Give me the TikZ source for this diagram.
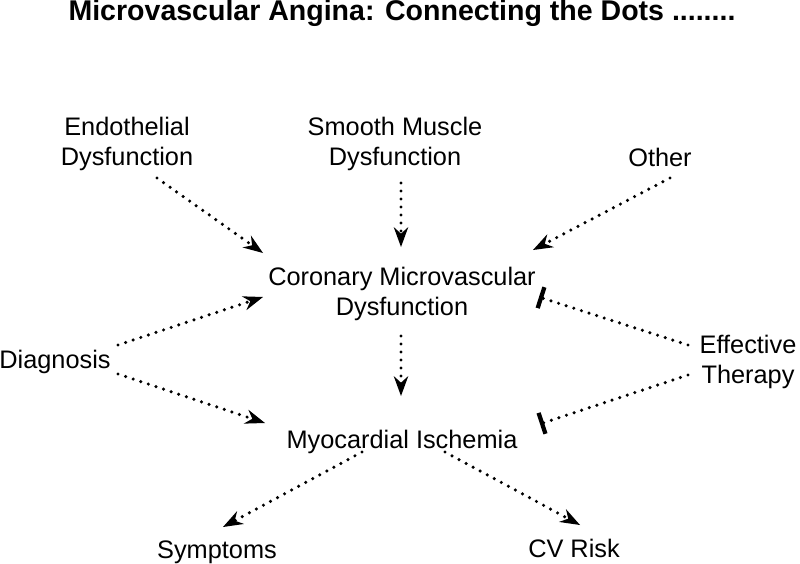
\documentclass[tikz,border=0pt]{standalone}
\usepackage{fontspec}
\setmainfont{Liberation Sans}
\usetikzlibrary{arrows.meta,calc}
\begin{document}
\begin{tikzpicture}[x=0.75pt,y=-0.75pt,
  lbl/.style={font=\fontsize{19}{22.5}\selectfont, align=center, inner sep=0pt},
  dotline/.style={line width=2.6pt, dash pattern=on 0pt off 6pt, line cap=round},
  arr/.style={dotline, -{Stealth[length=15pt,width=11pt,inset=5pt,line width=0pt]}},
  blk/.style={dotline, -{Bar[width=16.5pt,line width=3.2pt]}}]
\useasboundingbox (0,0) rectangle (800,564);
\node (title) [font=\fontsize{21.4}{25}\selectfont\bfseries, anchor=base, inner sep=0pt] at (402,21) {Microvascular Angina: Connecting the Dots ........};
\node (endo) [lbl] at (127,144) {Endothelial\\Dysfunction};
\node (smooth) [lbl] at (395,144) {Smooth Muscle\\Dysfunction};
\node (other) [lbl] at (660,157) {Other};
\node (cmd) [lbl] at (402,294) {Coronary Microvascular\\Dysfunction};
\node (diag) [lbl] at (55,362) {Diagnosis};
\node (et) [lbl] at (748,362) {Effective\\Therapy};
\node (mi) [lbl] at (402,442) {Myocardial Ischemia};
\node (sym) [lbl] at (217,552) {Symptoms};
\node (cv) [lbl] at (574,548) {CV Risk};

\draw[arr] ($(endo)+(30,34)$) -- ($(cmd)+(-139,-41)$);
\draw[arr] ($(smooth)+(6,39)$) -- ($(cmd)+(-1,-47)$);
\draw[arr] ($(other)+(10,21)$) -- ($(cmd)+(131,-44)$);
\draw[arr] ($(diag)+(63,-17)$) -- ($(cmd)+(-139,3)$);
\draw[arr] ($(diag)+(63,12)$) -- ($(mi)+(-137,-19)$);
\draw[arr] ($(cmd)+(-1,42)$) -- ($(mi)+(-1,-46)$);
\draw[blk] ($(et)+(-60,-17)$) -- ($(cmd)+(137,3)$);
\draw[blk] ($(et)+(-60,13)$) -- ($(mi)+(138,-18)$);
\draw[arr] ($(mi)+(-40,10)$) -- ($(sym)+(6,-25)$);
\draw[arr] ($(mi)+(43,10)$) -- ($(cv)+(6,-23)$);
\end{tikzpicture}
\end{document}
